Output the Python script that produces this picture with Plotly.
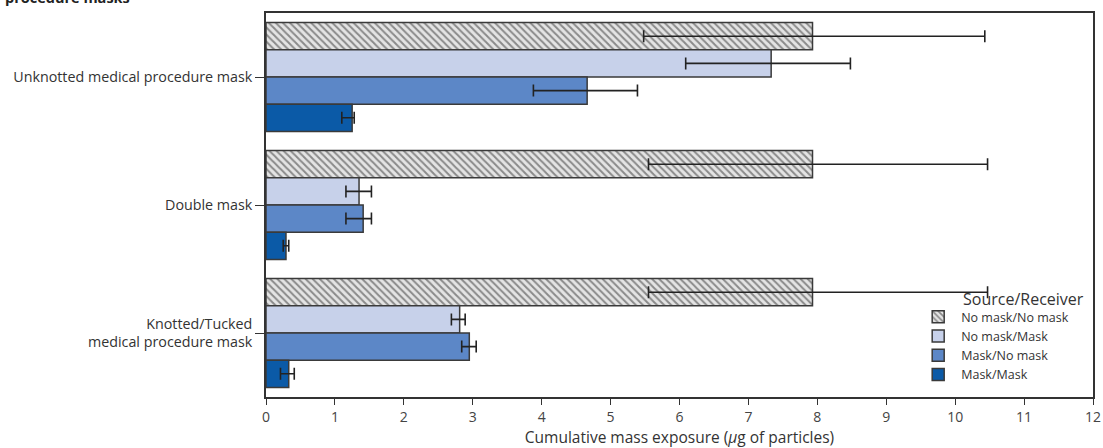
import plotly.graph_objects as go

categories = ["Unknotted medical procedure mask", "Double mask", "Knotted/Tucked<br>medical procedure mask"]
series_names = ["No mask/No mask", "No mask/Mask", "Mask/No mask", "Mask/Mask"]

nm_nm = [7.93, 7.93, 7.93]
nm_nm_lo = [5.48, 5.55, 5.55]
nm_nm_hi = [10.43, 10.47, 10.47]

nm_m = [7.33, 1.35, 2.81]
nm_m_lo = [6.09, 1.16, 2.69]
nm_m_hi = [8.48, 1.53, 2.89]

m_nm = [4.66, 1.41, 2.95]
m_nm_lo = [3.88, 1.16, 2.84]
m_nm_hi = [5.39, 1.53, 3.05]

m_m = [1.25, 0.29, 0.33]
m_m_lo = [1.10, 0.25, 0.21]
m_m_hi = [1.28, 0.33, 0.41]

x_ticks = list(range(0, 13))

values = [nm_nm, nm_m, m_nm, m_m]
lows = [nm_nm_lo, nm_m_lo, m_nm_lo, m_m_lo]
highs = [nm_nm_hi, nm_m_hi, m_nm_hi, m_m_hi]
colors = ["#e4e4e4", "#c7d1ea", "#5c87c7", "#0b5aa7"]

FONT = "Open Sans"
fig = go.Figure()
for i, name in enumerate(series_names):
    v, lo, hi = values[i], lows[i], highs[i]
    marker = dict(color=colors[i], line=dict(color="#3a3a3a", width=1.5))
    if i == 0:
        marker["pattern"] = dict(shape="\\", fgcolor="#8a8a8a", bgcolor="#e4e4e4",
                                 size=5, solidity=0.4, fillmode="replace")
    fig.add_trace(go.Bar(
        name=name, y=categories, x=v, orientation="h",
        marker=marker,
        error_x=dict(type="data", symmetric=False,
                     array=[h - a for h, a in zip(hi, v)],
                     arrayminus=[a - l for a, l in zip(v, lo)],
                     color="#222222", thickness=1.6, width=6),
    ))

fig.update_layout(
    width=1103, height=448,
    margin=dict(l=266, r=10, t=13, b=51, autoexpand=False),
    barmode="group", bargap=0.15, bargroupgap=0,
    plot_bgcolor="white", paper_bgcolor="white",
    font=dict(family=FONT, size=12, color="#333333"),
    showlegend=True,
    legend=dict(x=0.785, y=0.247, xanchor="left", yanchor="top", itemwidth=36,
                traceorder="normal", font=dict(size=12.5, color="#333333"),
                bgcolor="rgba(0,0,0,0)", tracegroupgap=0),
    xaxis=dict(range=[0, 12], tickvals=x_ticks, ticks="outside", ticklen=6,
               tickcolor="#333333", showline=True, linecolor="#333333", linewidth=1.5,
               mirror=True, showgrid=False, zeroline=False, automargin=False,
               tickfont=dict(size=14, color="#444444"),
               title=dict(text="Cumulative mass exposure (<i>μ</i>g of particles)",
                          font=dict(size=15.5, color="#333333"), standoff=12)),
    yaxis=dict(autorange="reversed", ticks="outside", ticklen=9, tickcolor="#333333",
               showline=True, linecolor="#333333", linewidth=1.5, mirror=True,
               automargin=False,
               showgrid=False, tickfont=dict(size=14.3, color="#333333")),
    annotations=[
        dict(text="Source/Receiver", xref="paper", yref="paper",
             x=(961 - 266) / 827, y=(397 - 299) / 384, xanchor="left", yanchor="middle",
             showarrow=False, font=dict(size=16, color="#333333")),
        dict(text="<b>procedure masks</b>", xref="paper", yref="paper",
             x=-266 / 827 + 0.004, y=1 + (13 - 9) / 384, xanchor="left", yanchor="bottom",
             showarrow=False, font=dict(size=14.5, color="#222222")),
    ],
)

fig.write_html("out.html", config={"displayModeBar": False},
               post_script="document.body.style.margin='0';")
